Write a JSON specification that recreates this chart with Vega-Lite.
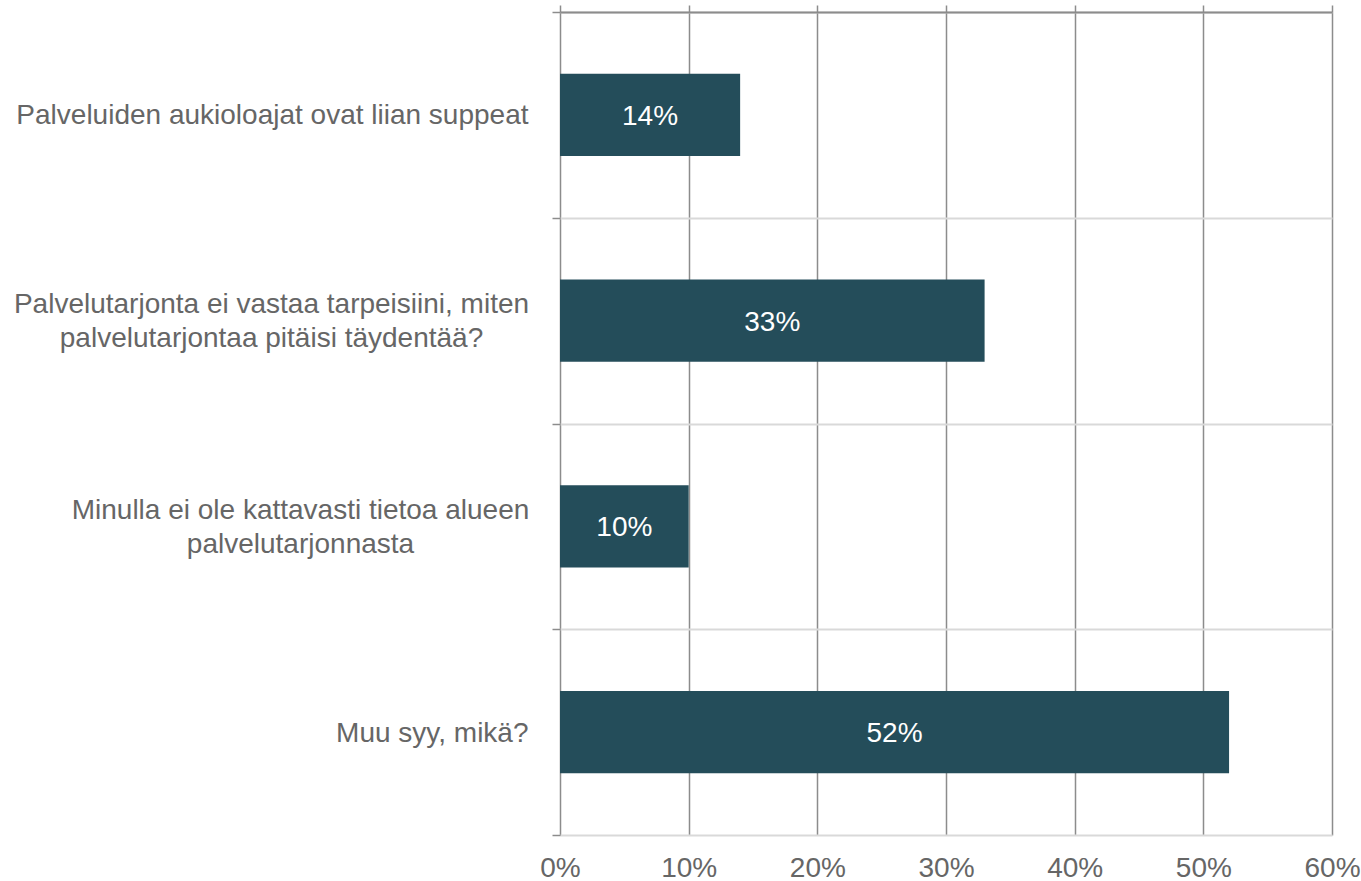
{
  "$schema": "https://vega.github.io/schema/vega-lite/v6.json",
  "width": 772,
  "height": 823,
  "autosize": {"type": "none"},
  "padding": {"left": 560, "top": 12, "right": 29, "bottom": 46},
  "background": "white",
  "config": {"view": {"stroke": null}, "font": "Liberation Sans"},
  "data": {
    "values": [
      {"reason": "Palveluiden aukioloajat ovat liian suppeat", "share": 0.14},
      {"reason": "Palvelutarjonta ei vastaa tarpeisiini, miten palvelutarjontaa pitäisi täydentää?", "share": 0.33},
      {"reason": "Minulla ei ole kattavasti tietoa alueen palvelutarjonnasta", "share": 0.10},
      {"reason": "Muu syy, mikä?", "share": 0.52}
    ]
  },
  "encoding": {
    "y": {
      "field": "reason",
      "type": "nominal",
      "sort": null,
      "scale": {"paddingInner": 0, "paddingOuter": 0},
      "axis": {
        "title": null,
        "domain": false,
        "ticks": true,
        "tickBand": "extent",
        "tickColor": "#8c8c8c",
        "tickSize": 8,
        "tickWidth": 1.5,
        "grid": true,
        "gridColor": "#d9d9d9",
        "gridWidth": 2,
        "labelFont": "Liberation Sans",
        "labelFontSize": 28,
        "labelColor": "#666666",
        "labelLimit": 0,
        "labelLineHeight": 34,
        "labelAlign": {
          "condition": {"test": "datum.value == 'Palvelutarjonta ei vastaa tarpeisiini, miten palvelutarjontaa pitäisi täydentää?' || datum.value == 'Minulla ei ole kattavasti tietoa alueen palvelutarjonnasta'", "value": "center"},
          "value": "right"
        },
        "labelOffset": {
          "condition": {"test": "datum.value == 'Palvelutarjonta ei vastaa tarpeisiini, miten palvelutarjontaa pitäisi täydentää?' || datum.value == 'Minulla ei ole kattavasti tietoa alueen palvelutarjonnasta'", "value": -16},
          "value": 1
        },
        "labelPadding": {
          "condition": [
            {"test": "datum.value == 'Palvelutarjonta ei vastaa tarpeisiini, miten palvelutarjontaa pitäisi täydentää?'", "value": 281},
            {"test": "datum.value == 'Minulla ei ole kattavasti tietoa alueen palvelutarjonnasta'", "value": 252}
          ],
          "value": 24
        },
        "labelExpr": "datum.value == 'Palvelutarjonta ei vastaa tarpeisiini, miten palvelutarjontaa pitäisi täydentää?' ? ['Palvelutarjonta ei vastaa tarpeisiini, miten', 'palvelutarjontaa pitäisi täydentää?'] : datum.value == 'Minulla ei ole kattavasti tietoa alueen palvelutarjonnasta' ? ['Minulla ei ole kattavasti tietoa alueen', 'palvelutarjonnasta'] : datum.value"
      }
    }
  },
  "layer": [
    {
      "mark": {"type": "bar", "color": "#244d5a", "height": {"band": 0.4}},
      "encoding": {
        "x": {
          "field": "share",
          "type": "quantitative",
          "scale": {"domain": [0, 0.6], "nice": false},
          "axis": {
            "orient": "bottom",
            "title": null,
            "values": [0, 0.1, 0.2, 0.3, 0.4, 0.5, 0.6],
            "format": ".0%",
            "domain": false,
            "ticks": false,
            "grid": true,
            "gridColor": "#8c8c8c",
            "gridWidth": 1.5,
            "labelFont": "Liberation Sans",
            "labelFontSize": 28,
            "labelColor": "#666666",
            "labelPadding": 19,
            "labelFlush": false
          }
        }
      }
    },
    {
      "transform": [{"calculate": "datum.share / 2", "as": "mid"}],
      "mark": {"type": "text", "color": "white", "fontSize": 28, "font": "Liberation Sans", "align": "center", "baseline": "middle", "dy": 2},
      "encoding": {
        "x": {
          "field": "mid",
          "type": "quantitative",
          "scale": {"domain": [0, 0.6], "nice": false},
          "axis": {
            "orient": "top",
            "title": null,
            "values": [0, 0.1, 0.2, 0.3, 0.4, 0.5, 0.6],
            "labels": false,
            "domain": true,
            "domainColor": "#8c8c8c",
            "domainWidth": 2,
            "ticks": true,
            "tickSize": 7,
            "tickColor": "#8c8c8c",
            "tickWidth": 1.5,
            "grid": false
          }
        },
        "text": {"field": "share", "type": "quantitative", "format": ".0%"}
      }
    }
  ],
  "resolve": {"axis": {"x": "independent"}}
}
